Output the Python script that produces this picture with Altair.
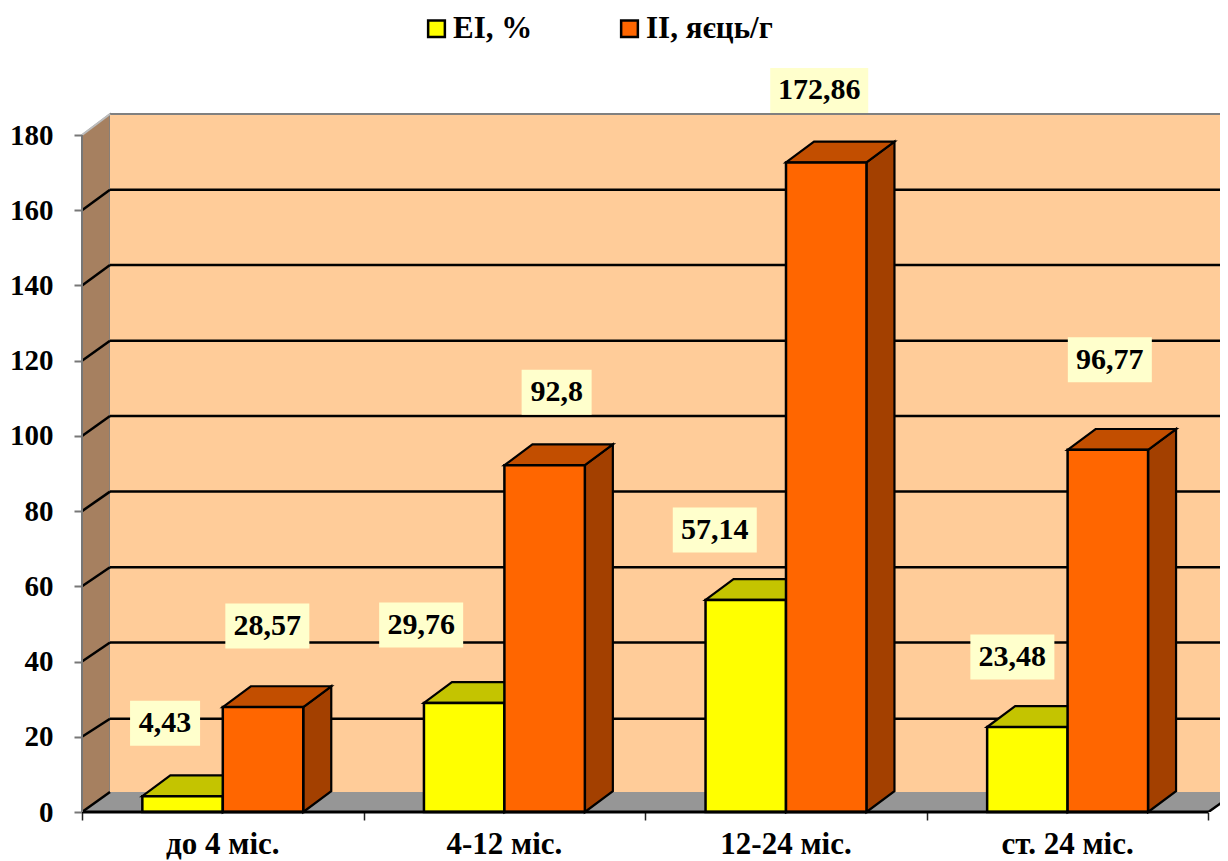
import altair as alt
import pandas as pd

categories = ["до 4 міс.", "4-12 міс.", "12-24 міс.", "ст. 24 міс."]
series_names = ["EI, %", "II, яєць/г"]
# printed data labels
ei_labels = ["4,43", "29,76", "57,14", "23,48"]
ii_labels = ["28,57", "92,8", "172,86", "96,77"]
# heights
ei_heights = [4.2, 29.0, 56.4, 22.6]
ii_heights = [27.9, 92.2, 172.7, 96.3]
# label placement relative to its bar, in pixels
ei_label_dx = [-17.5, -43, -31, -15]
ei_label_lift = [73, 78, 70, 70]
ii_label_dx = [4.3, 12, -7, 2]
ii_label_lift = [81, 73, 72, 90]
y_ticks = [0, 20, 40, 60, 80, 100, 120, 140, 160, 180]
x_ticks = [0, 1, 2, 3, 4]
# how far each gridline rises from the front axis to the back wall, in pixels
grid_rise = [20, 18, 19, 19, 19.5, 20, 20, 20.5, 20.5, 21]

CAT_PX = 281.6
VAL_PX = 3.761
W, H = 1138, 804
DX = 28 / CAT_PX
DY = 20.8 / VAL_PX
BAR = 1 / 3.5
GAP = 0.75 * BAR
FONT = "Liberation Serif"
LINE = "#000000"
COLORS = {"EI, %": "#FFFF00", "II, яєць/г": "#FF6600"}
TOP = {"EI, %": "#C4C400", "II, яєць/г": "#C24E00"}
SIDE = {"EI, %": "#A6A600", "II, яєць/г": "#A34000"}

xs = alt.Scale(domain=[0, W / CAT_PX], nice=False, zero=False)
ys = alt.Scale(domain=[0, H / VAL_PX], nice=False, zero=False)


def X(field="x", **kw):
    return alt.X(f"{field}:Q", scale=xs, title=None, **kw)


def Y(field="y", **kw):
    return alt.Y(f"{field}:Q", scale=ys, title=None, stack=None, **kw)


back_y = [t + r / VAL_PX for t, r in zip(y_ticks, grid_rise)]

# ---- tables derived from the value lists
fronts, sides, tops, boxes, texts = [], [], [], [], []
for s, (name, heights, labels, ldx, lift) in enumerate([
    (series_names[0], ei_heights, ei_labels, ei_label_dx, ei_label_lift),
    (series_names[1], ii_heights, ii_labels, ii_label_dx, ii_label_lift),
]):
    for i, v in enumerate(heights):
        x0 = i + GAP + s * BAR
        x1 = x0 + BAR
        bid = f"{s}-{i}"
        fronts.append(dict(series=name, x=x0, x2=x1, y=0, y2=v))
        sides += [
            dict(bar=bid, series=name, x=x1, y=0, y2=v),
            dict(bar=bid, series=name, x=x1 + DX, y=DY, y2=v + DY),
        ]
        tops += [
            dict(bar=bid, series=name, y=v, x=x0, x2=x1),
            dict(bar=bid, series=name, y=v + DY, x=x0 + DX, x2=x1 + DX),
        ]
        lab = labels[i]
        cx = (x0 + x1) / 2 + ldx[i] / CAT_PX
        cy = v + lift[i] / VAL_PX
        digits = sum(c.isdigit() for c in lab)
        half = (14 * digits + 28) / 2 / CAT_PX
        boxes.append(dict(x=cx - half, x2=cx + half, y=cy - 22.5 / VAL_PX, y2=cy + 22.5 / VAL_PX))
        texts.append(dict(x=cx, y=cy, label=lab))

left_wall = alt.Chart(pd.DataFrame([
    dict(x=0, y=0, y2=180), dict(x=DX, y=back_y[0], y2=back_y[-1])
])).mark_area(color="#A68060", stroke="#808080", strokeWidth=1.5).encode(
    x=X(axis=alt.Axis(values=x_ticks, labels=False, domain=False, grid=False,
                      ticks=True, tickSize=8, tickColor="#222222", tickWidth=1.5)),
    y=Y(axis=alt.Axis(values=y_ticks, domain=False, grid=False, tickSize=8, tickColor="#777777",
                      tickWidth=2, labelFont=FONT, labelFontWeight="bold", labelFontSize=29,
                      labelColor="#000000", labelPadding=21, labelBaseline="middle")),
    y2="y2:Q",
)

floor = alt.Chart(pd.DataFrame([
    dict(y=0, x=0, x2=4), dict(y=back_y[0], x=DX, x2=4 + DX)
])).mark_area(orient="horizontal", color="#969696", clip=True).encode(
    y=Y(), x=X(), x2="x2:Q"
)

back_wall = alt.Chart(pd.DataFrame([dict(x=DX, x2=4 + DX, y=back_y[0], y2=back_y[-1])])).mark_rect(
    color="#FFCC99", clip=True
).encode(x=X(), x2="x2:Q", y=Y(), y2="y2:Q")

inner = back_y[1:-1]
back_grid = alt.Chart(pd.DataFrame({"y": inner, "x": [DX] * len(inner), "x2": [4 + DX] * len(inner)})).mark_rule(
    color="#000000", strokeWidth=2.5, clip=True
).encode(x=X(), x2="x2:Q", y=Y())

top_edge = alt.Chart(pd.DataFrame({"y": [back_y[-1]], "x": [DX], "x2": [4 + DX]})).mark_rule(
    color="#808080", strokeWidth=2, clip=True
).encode(x=X(), x2="x2:Q", y=Y())

slopes_df = pd.DataFrame({"x": [0.0] * (len(y_ticks) - 1), "x2": [DX] * (len(y_ticks) - 1),
                          "y": y_ticks[:-1], "y2": back_y[:-1]})
slopes = alt.Chart(slopes_df).mark_rule(color="#000000", strokeWidth=2.5).encode(
    x=X(), x2="x2:Q", y=Y(), y2="y2:Q"
)
top_slope = alt.Chart(pd.DataFrame({"x": [0.0], "x2": [DX], "y": [180], "y2": [back_y[-1]]})).mark_rule(
    color="#BDBDBD", strokeWidth=2
).encode(x=X(), x2="x2:Q", y=Y(), y2="y2:Q")

front_axis = alt.Chart(pd.DataFrame({"x": [0], "x2": [4], "y": [0]})).mark_rule(
    color="#000000", strokeWidth=3
).encode(x=X(), x2="x2:Q", y=Y())
left_axis = alt.Chart(pd.DataFrame({"x": [0], "y": [0], "y2": [180]})).mark_rule(
    color="#777777", strokeWidth=2
).encode(x=X(), y=Y(), y2="y2:Q")
floor_end = alt.Chart(pd.DataFrame({"x": [4.0], "x2": [4 + DX], "y": [0.0], "y2": [back_y[0]]})).mark_rule(
    color="#000000", strokeWidth=2.5, clip=True
).encode(x=X(), x2="x2:Q", y=Y(), y2="y2:Q")

bar_layers = []
sides_df, tops_df = pd.DataFrame(sides), pd.DataFrame(tops)
for name in series_names:
    bar_layers.append(alt.Chart(sides_df[sides_df.series == name]).mark_area(
        color=SIDE[name], stroke=LINE, strokeWidth=2.2, strokeJoin="miter"
    ).encode(x=X(), y=Y(), y2="y2:Q", detail="bar:N"))
    bar_layers.append(alt.Chart(tops_df[tops_df.series == name]).mark_area(
        orient="horizontal", color=TOP[name], stroke=LINE, strokeWidth=2.2, strokeJoin="miter"
    ).encode(y=Y(), x=X(), x2="x2:Q", detail="bar:N"))

front_layer = alt.Chart(pd.DataFrame(fronts)).mark_rect(
    stroke=LINE, strokeWidth=2.5, strokeJoin="miter"
).encode(
    x=X(), x2="x2:Q", y=Y(), y2="y2:Q",
    color=alt.Color("series:N",
                    scale=alt.Scale(domain=series_names, range=[COLORS[n] for n in series_names]),
                    legend=alt.Legend(orient="none", legendX=339, legendY=5, direction="horizontal",
                                      title=None, symbolType="square", symbolSize=280,
                                      symbolStrokeColor="#000000", symbolStrokeWidth=2.5,
                                      symbolOpacity=1, labelFont=FONT, labelFontWeight="bold",
                                      labelFontSize=31, labelColor="#000000", labelOffset=1,
                                      columnPadding=81, labelLimit=300)),
)

label_boxes = alt.Chart(pd.DataFrame(boxes)).mark_rect(color="#FFFFCC").encode(
    x=X(), x2="x2:Q", y=Y(), y2="y2:Q"
)
label_text = alt.Chart(pd.DataFrame(texts)).mark_text(
    font=FONT, fontWeight="bold", fontSize=30, color="#000000", baseline="middle", align="center"
).encode(x=X(), y=Y(), text="label:N")

cat_df = pd.DataFrame({"x": [i + 0.5 for i in range(len(categories))], "y": [0] * len(categories), "label": categories})
cat_text = alt.Chart(cat_df).mark_text(
    font=FONT, fontWeight="bold", fontSize=31, color="#000000", baseline="middle", align="center", dy=33
).encode(x=X(), y=Y(), text="label:N")

chart = alt.layer(
    left_wall, floor, back_wall, back_grid, top_edge, slopes, top_slope, *bar_layers,
    front_layer, front_axis, left_axis, floor_end, label_boxes, label_text, cat_text,
).properties(
    width=W, height=H, background="#FFFFFF",
    padding={"left": 74, "top": 0, "right": 0, "bottom": 49},
    autosize=alt.AutoSizeParams(type="none"),
).configure_view(stroke=None)

chart.save("out.html", embed_options={"renderer": "svg", "actions": False})
